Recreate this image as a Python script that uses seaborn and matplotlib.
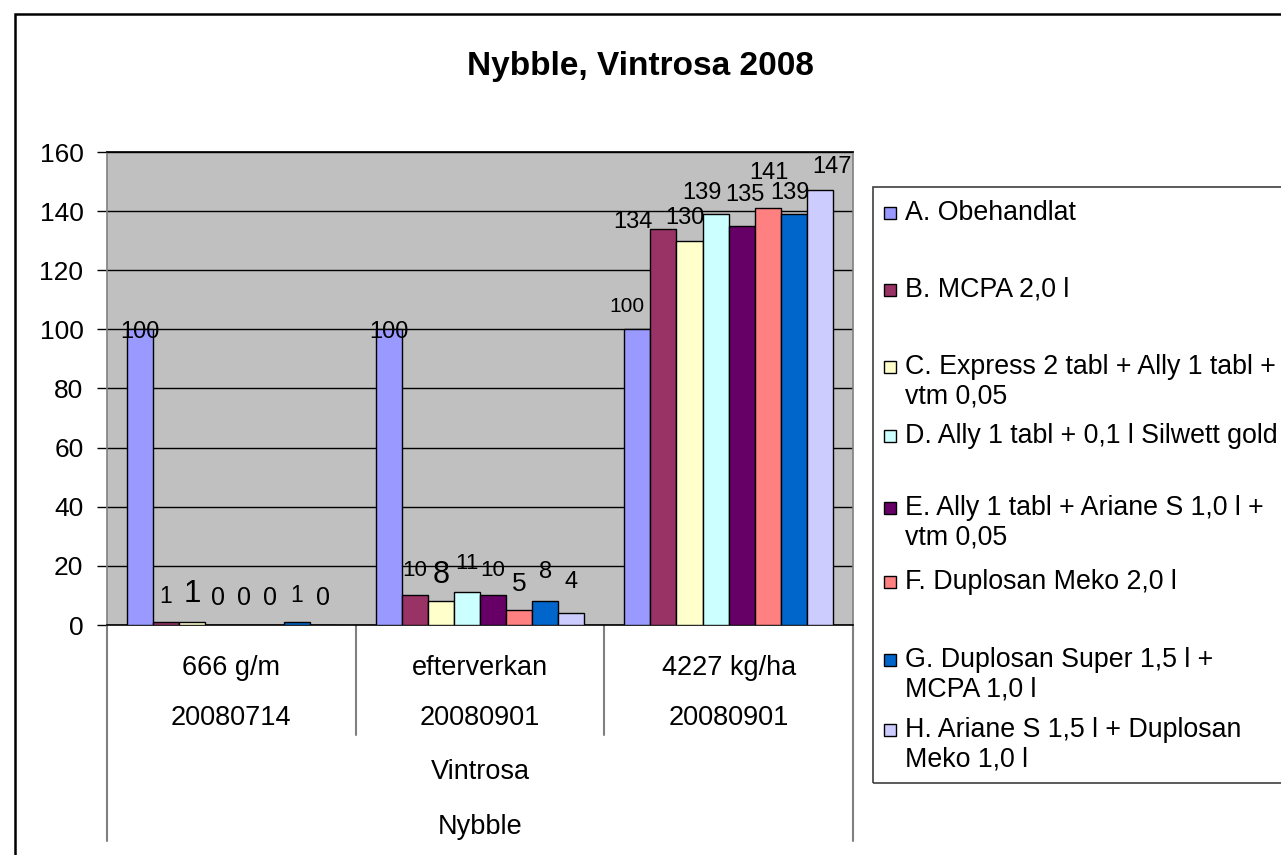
import numpy as np
import pandas as pd
import matplotlib
matplotlib.use("Agg")
import matplotlib.pyplot as plt
from matplotlib.patches import Rectangle
from matplotlib.transforms import blended_transform_factory
import seaborn as sns

# ---------------- data ----------------
title = "Nybble, Vintrosa 2008"
cat_row1 = ["666 g/m", "efterverkan", "4227 kg/ha"]
cat_row2 = ["20080714", "20080901", "20080901"]
cat_row3 = "Vintrosa"
cat_row4 = "Nybble"
treatments = [
    "A. Obehandlat",
    "B. MCPA 2,0 l",
    "C. Express 2 tabl + Ally 1 tabl +\nvtm 0,05",
    "D. Ally 1 tabl + 0,1 l Silwett gold",
    "E. Ally 1 tabl + Ariane S 1,0 l +\nvtm 0,05",
    "F. Duplosan Meko 2,0 l",
    "G. Duplosan Super 1,5 l +\nMCPA 1,0 l",
    "H. Ariane S 1,5 l + Duplosan\nMeko 1,0 l",
]
vals_A = [100, 100, 100]
vals_B = [1, 10, 134]
vals_C = [1, 8, 130]
vals_D = [0, 11, 139]
vals_E = [0, 10, 135]
vals_F = [0, 5, 141]
vals_G = [1, 8, 139]
vals_H = [0, 4, 147]
yticks = [0, 20, 40, 60, 80, 100, 120, 140, 160]

# ---------------- styles ----------------
colors = ["#9999FF", "#993366", "#FFFFCC", "#CCFFFF",
          "#660066", "#FF8080", "#0066CC", "#CCCCFF"]
# data label font sizes (pt) and offsets (px) per treatment x group
lbl_size = [[17, 17, 15], [16.5, 16, 17], [22.5, 22, 17], [18, 16, 17],
            [18, 16, 17], [18, 19, 17], [16.5, 17, 17], [18, 17, 17]]
lbl_dy = [[-3, -3, 23], [26, 25, 7], [28, 26, 23], [27, 29, 21],
          [27, 25, 31], [27, 26, 35], [27, 29, 21], [27, 31, 23]]
lbl_dx = [[0, 0, -10], [0, 0, -30], [0, 0, -5], [0, 0, -14],
          [0, 0, 3], [0, 0, 1], [0, 0, -4], [0, 0, 12]]

W, H = 1281, 855
def fx(px): return px / W
def fy(py): return 1 - py / H

sns.set_theme(style="white")
plt.rcParams["font.family"] = ["Liberation Sans", "DejaVu Sans"]

all_vals = [vals_A, vals_B, vals_C, vals_D, vals_E, vals_F, vals_G, vals_H]
rows = []
for t, v in zip(treatments, all_vals):
    for c, val in zip(cat_row1, v):
        rows.append({"cat": c, "treat": t, "value": val})
df = pd.DataFrame(rows)

fig = plt.figure(figsize=(W / 100, H / 100), dpi=100)
fig.patch.set_facecolor("white")
ax = fig.add_axes([fx(107), fy(625), fx(853) - fx(107), fy(152) - fy(625)])
ax.set_facecolor("#C0C0C0")

sns.barplot(data=df, x="cat", y="value", hue="treat", order=cat_row1,
            hue_order=treatments, palette=colors, saturation=1, width=0.84,
            gap=0, edgecolor="black", linewidth=1.0, errorbar=None,
            legend=False, ax=ax, zorder=3)

ax.set_ylim(0, 160)
ax.set_xlim(-0.5, 2.5)
ax.set_yticks(yticks)
ax.yaxis.grid(True, color="black", linewidth=1.0, zorder=0)
ax.set_axisbelow(True)
ax.set_xlabel("")
ax.set_ylabel("")
ax.set_xticks([])
ax.tick_params(axis="y", which="major", left=True, direction="out", length=7,
               width=1, color="black", pad=10, labelsize=19, labelcolor="black")
for s in ["left", "right"]:
    ax.spines[s].set_color("#808080")
    ax.spines[s].set_linewidth(1.2)
ax.spines["top"].set_color("black")
ax.spines["bottom"].set_color("black")
ax.spines["bottom"].set_linewidth(1.2)

# data labels
for ti, cont in enumerate(ax.containers):
    for gi, p in enumerate(cont.patches):
        xc = p.get_x() + p.get_width() / 2
        top = p.get_height()
        ax.annotate(f"{all_vals[ti][gi]:g}", (xc, top),
                    xytext=(lbl_dx[ti][gi], lbl_dy[ti][gi]),
                    textcoords="offset pixels", ha="center", va="center",
                    fontsize=lbl_size[ti][gi], color="black", zorder=5)

# multi-level category axis
tr = blended_transform_factory(ax.transData, fig.transFigure)
for i in range(3):
    ax.text(i, fy(668), cat_row1[i], transform=tr, ha="center", va="center",
            fontsize=19.5, color="black")
    ax.text(i, fy(718), cat_row2[i], transform=tr, ha="center", va="center",
            fontsize=19.5, color="black")
ax.text(1, fy(772), cat_row3, transform=tr, ha="center", va="center",
        fontsize=19.5, color="black")
ax.text(1, fy(827), cat_row4, transform=tr, ha="center", va="center",
        fontsize=19.5, color="black")
for xb, ybot in [(-0.5, 841), (0.5, 735), (1.5, 735), (2.5, 841)]:
    ax.plot([xb, xb], [fy(625), fy(ybot)], transform=tr, color="#808080",
            lw=1.5, clip_on=False)

# title
fig.text(0.5, fy(67), title, ha="center", va="center", fontsize=24,
         fontweight="bold", color="black")

# legend (manual layout like the Excel legend box)
fig.add_artist(Rectangle((fx(873), fy(783)), fx(1300) - fx(873), fy(187) - fy(783),
                         transform=fig.transFigure, fill=False, ec="#404040", lw=1.2))
leg_y = [213, 290, 367, 436, 508, 582, 660, 730]
for t, c, y in zip(treatments, colors, leg_y):
    fig.add_artist(Rectangle((fx(884), fy(y + 6)), fx(12), 12 / H,
                             transform=fig.transFigure, fc=c, ec="black", lw=1))
    for k, line in enumerate(t.split("\n")):
        fig.text(fx(905), fy(y + k * 29), line, ha="left", va="center",
                 fontsize=19.3, color="black")

# outer chart border
fig.add_artist(Rectangle((fx(15), -0.1), 1.2, fy(14) + 0.1,
                         transform=fig.transFigure, fill=False, ec="black", lw=1.8))

fig.savefig("out.png", dpi=100)
